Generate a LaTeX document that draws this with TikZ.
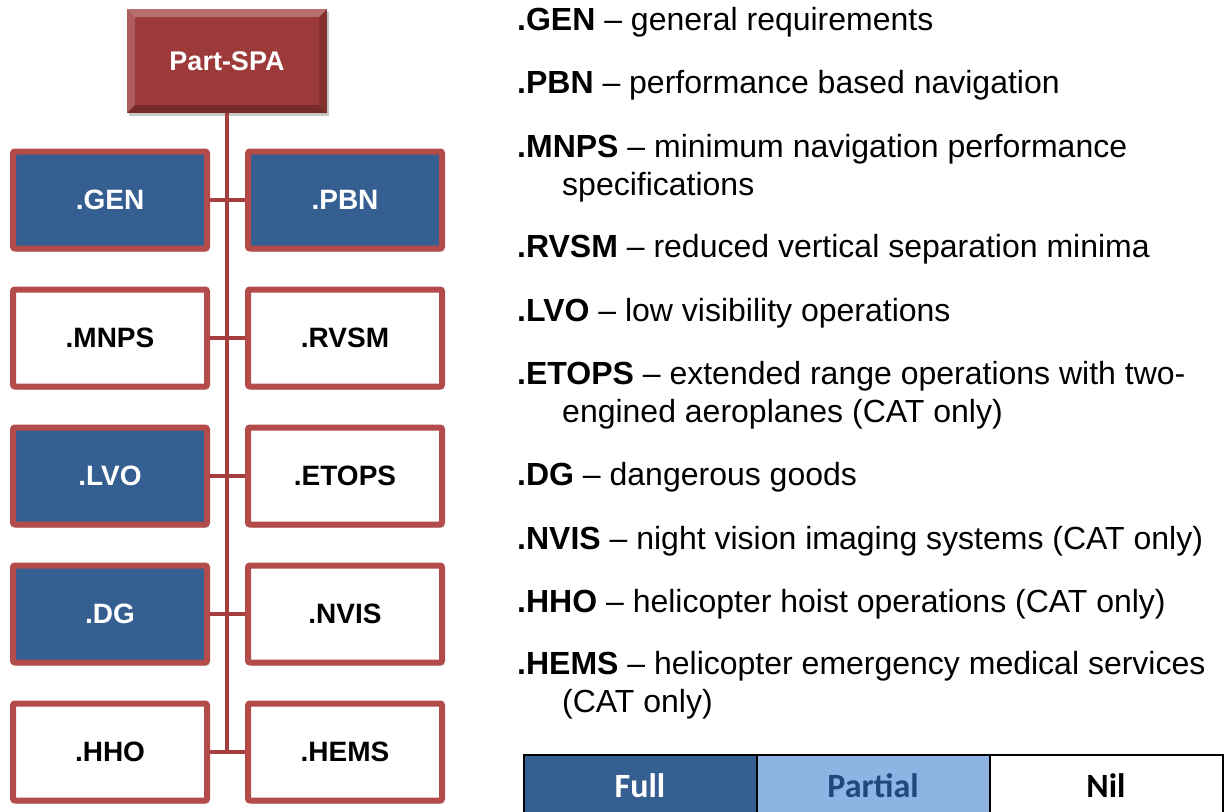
\documentclass[tikz,border=0pt]{standalone}
\usepackage{fontspec}
\setmainfont{Liberation Sans}
\newfontfamily\legendfont{Carlito}
\usepackage{tikz}
\usetikzlibrary{positioning, shadows}

\definecolor{spared}{RGB}{156,58,57}
\definecolor{boxred}{RGB}{178,75,73}
\definecolor{trunkred}{RGB}{165,62,61}
\definecolor{fullblue}{RGB}{54,95,145}
\definecolor{partblue}{RGB}{141,180,226}
\definecolor{partink}{RGB}{31,73,125}

\begin{document}
\begin{tikzpicture}[x=1pt, y=-1pt,
  subpart/.style={draw=boxred, line width=6pt, rounded corners=2pt,
                  minimum width=194pt, minimum height=97pt, inner sep=0pt,
                  font=\fontsize{28}{34}\selectfont\bfseries,
                  drop shadow={shadow xshift=2pt, shadow yshift=-3pt,
                               fill=black, opacity=0.22}},
  fullbox/.style={subpart, fill=fullblue, text=white},
  nilbox/.style={subpart, fill=white, text=black},
  link/.style={trunkred, line width=4pt},
  item/.style={anchor=base west, inner sep=0pt,
               font=\fontsize{32}{38}\selectfont},
  legcell/.style={draw=black, line width=2pt, outer sep=0pt,
                  minimum width=233pt, minimum height=62pt,
                  font=\legendfont\fontsize{34}{40}\selectfont\bfseries}]
  \useasboundingbox (0,0) rectangle (1225,811);

  % root of the tree
  \node[fill=spared, minimum width=200pt, minimum height=104pt, inner sep=0pt,
        text=white, font=\fontsize{27}{32}\selectfont\bfseries,
        drop shadow={shadow xshift=2pt, shadow yshift=-3pt, fill=black, opacity=0.22},
        path picture={
          \fill[white, opacity=0.28] (path picture bounding box.north west)
            -- (path picture bounding box.north east)
            -- ([xshift=-8pt, yshift=-8pt]path picture bounding box.north east)
            -- ([xshift=8pt, yshift=-8pt]path picture bounding box.north west) -- cycle;
          \fill[white, opacity=0.18] (path picture bounding box.north west)
            -- ([xshift=8pt, yshift=-8pt]path picture bounding box.north west)
            -- ([xshift=8pt, yshift=8pt]path picture bounding box.south west)
            -- (path picture bounding box.south west) -- cycle;
          \fill[black, opacity=0.25] (path picture bounding box.south west)
            -- (path picture bounding box.south east)
            -- ([xshift=-8pt, yshift=8pt]path picture bounding box.south east)
            -- ([xshift=8pt, yshift=8pt]path picture bounding box.south west) -- cycle;
          \fill[black, opacity=0.15] (path picture bounding box.north east)
            -- ([xshift=-8pt, yshift=-8pt]path picture bounding box.north east)
            -- ([xshift=-8pt, yshift=8pt]path picture bounding box.south east)
            -- (path picture bounding box.south east) -- cycle;
        }] (spa) at (227,61) {Part-SPA};

  % sub-parts, two columns
  \node[fullbox] (gen) at (110,200) {.GEN};
  \node[fullbox, right=35pt of gen]  (pbn)   {.PBN};
  \node[nilbox,  below=35pt of gen]  (mnps)  {.MNPS};
  \node[nilbox,  right=35pt of mnps] (rvsm)  {.RVSM};
  \node[fullbox, below=35pt of mnps] (lvo)   {.LVO};
  \node[nilbox,  right=35pt of lvo]  (etops) {.ETOPS};
  \node[fullbox, below=35pt of lvo]  (dg)    {.DG};
  \node[nilbox,  right=35pt of dg]   (nvis)  {.NVIS};
  \node[nilbox,  below=35pt of dg]   (hho)   {.HHO};
  \node[nilbox,  right=35pt of hho]  (hems)  {.HEMS};

  \draw[link] (spa.south) -- (spa.south |- hho.center);
  \foreach \a/\b in {gen/pbn,mnps/rvsm,lvo/etops,dg/nvis,hho/hems}
     \draw[link] (\a) -- (\b);

  % key to the abbreviations
  \node[item] (gen-t)    at (517,30)  {\textbf{.GEN} – general requirements};
  \node[item] (pbn-t)    at (517,93)  {\textbf{.PBN} – performance based navigation};
  \node[item] (mnps-t)   at (517,157) {\textbf{.MNPS} – minimum navigation performance};
  \node[item] (mnps-t2)  at (562,195) {specifications};
  \node[item] (rvsm-t)   at (517,257) {\textbf{.RVSM} – reduced vertical separation minima};
  \node[item] (lvo-t)    at (517,321) {\textbf{.LVO} – low visibility operations};
  \node[item] (etops-t)  at (517,384) {\textbf{.ETOPS} – extended range operations with two-};
  \node[item] (etops-t2) at (562,422) {engined aeroplanes (CAT only)};
  \node[item] (dg-t)     at (517,485) {\textbf{.DG} – dangerous goods};
  \node[item] (nvis-t)   at (517,549) {\textbf{.NVIS} – night vision imaging systems (CAT only)};
  \node[item] (hho-t)    at (517,612) {\textbf{.HHO} – helicopter hoist operations (CAT only)};
  \node[item] (hems-t)   at (517,674) {\textbf{.HEMS} – helicopter emergency medical services};
  \node[item] (hems-t2)  at (562,712) {(CAT only)};

  % legend
  \node[legcell, fill=fullblue, text=white] (full) at (640,786) {Full};
  \node[legcell, fill=partblue, text=partink, right=0pt of full] (partial) {Partial};
  \node[legcell, fill=white, text=black, right=0pt of partial] (nil) {Nil};
\end{tikzpicture}
\end{document}
